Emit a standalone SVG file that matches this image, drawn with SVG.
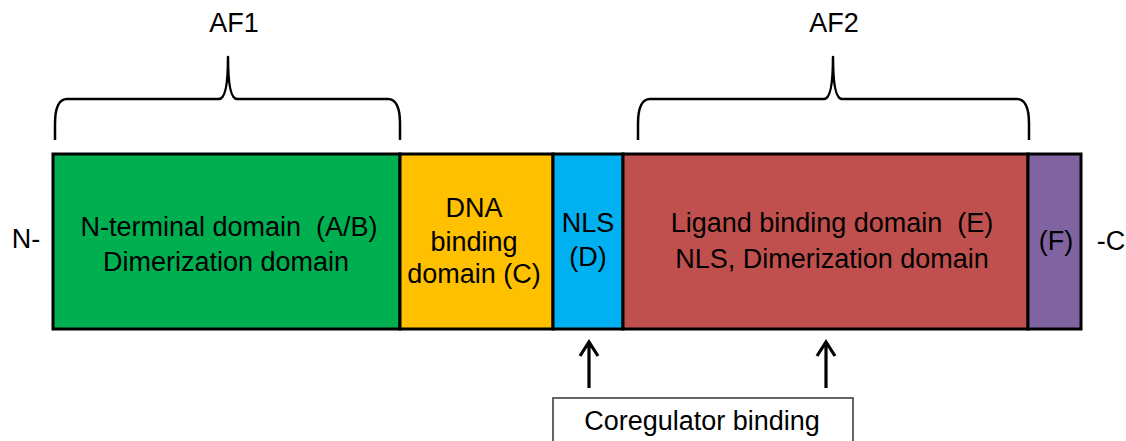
<svg xmlns="http://www.w3.org/2000/svg" width="1126" height="441" viewBox="0 0 1126 441">
<style>
text{font-family:"Liberation Sans",Arial,sans-serif;font-size:27px;fill:#000;text-anchor:middle;white-space:pre}
.dom{stroke:#000;stroke-width:3}
.brace{fill:none;stroke:#000;stroke-width:2.5;stroke-linejoin:round}
.arr{stroke:#000;stroke-width:3.2;fill:none}
</style>
<rect width="1126" height="441" fill="#fff"/>
<g id="af1">
<path class="brace" d="M55,140 L55,124 Q55,99 67,99 L219,99 Q228,99 228,57 Q228,99 237,99 L388,99 Q400,99 400,124 L400,140"/>
<text x="234" y="32">AF1</text>
</g>
<g id="af2">
<path class="brace" d="M638,140 L638,124 Q638,99 650,99 L824,99 Q833,99 833,57 Q833,99 842,99 L1017,99 Q1029,99 1029,124 L1029,140"/>
<text x="834" y="32">AF2</text>
</g>
<g id="nterm"><text x="26" y="248">N-</text></g>
<g id="cterm"><text x="1111" y="250">-C</text></g>
<g id="domainAB">
<rect class="dom" x="53" y="154" width="347" height="175" fill="#00B050"/>
<text x="229" y="236" xml:space="preserve">N-terminal domain  (A/B)</text>
<text x="226" y="271">Dimerization domain</text>
</g>
<g id="domainC">
<rect class="dom" x="400" y="154" width="153" height="175" fill="#FFC000"/>
<text x="474" y="217">DNA</text>
<text x="474" y="251">binding</text>
<text x="474" y="283">domain (C)</text>
</g>
<g id="domainD">
<rect class="dom" x="553" y="154" width="70" height="175" fill="#00B0F0"/>
<text x="588" y="232">NLS</text>
<text x="588" y="266">(D)</text>
</g>
<g id="domainE">
<rect class="dom" x="623" y="154" width="405" height="175" fill="#C0504D"/>
<text x="832" y="232" xml:space="preserve">Ligand binding domain  (E)</text>
<text x="832" y="268">NLS, Dimerization domain</text>
</g>
<g id="domainF">
<rect class="dom" x="1028" y="154" width="53" height="175" fill="#8064A2"/>
<text x="1056" y="250">(F)</text>
</g>
<g id="connectors">
<path class="arr" d="M589,388 L589,343 M580,356 L589,342 L598,356"/>
<path class="arr" d="M826,388 L826,343 M817,356 L826,342 L835,356"/>
</g>
<g id="coregulator">
<rect x="553" y="398" width="300" height="50" fill="#fff" stroke="#333" stroke-width="1.5"/>
<text x="702" y="430">Coregulator binding</text>
</g>
</svg>
